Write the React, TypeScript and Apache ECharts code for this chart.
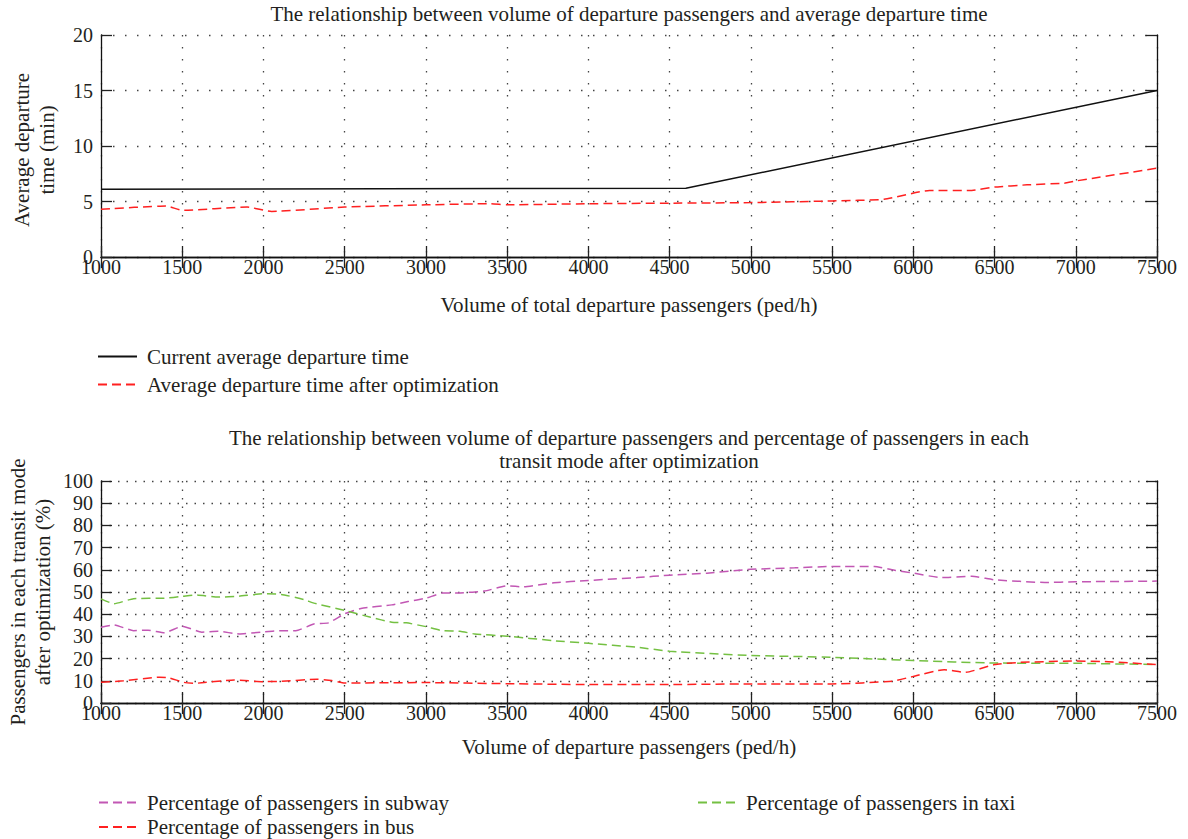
import React, { useEffect, useRef } from "react";
import * as echarts from "echarts";

// ---------- DATA ----------
const xRange = [1000, 7500];
const currentX = [1000, 4600, 7500];
const currentY = [6.1, 6.2, 15.0];

const optX = [1000, 1400, 1500, 1900, 2050, 2500, 3000, 3400, 3500, 4000, 4500, 5000, 5500, 5820, 6100, 6360, 6500, 6700, 6930, 7000, 7500];
const optY = [4.3, 4.6, 4.2, 4.5, 4.1, 4.5, 4.7, 4.8, 4.7, 4.8, 4.85, 4.9, 5.05, 5.2, 6.0, 6.0, 6.3, 6.5, 6.65, 6.85, 8.0];

const subwayX = [1000, 1080, 1200, 1290, 1390, 1500, 1620, 1720, 1850, 2000, 2110, 2200, 2310, 2400, 2500, 2600, 2790, 2890, 3000, 3100, 3210, 3360, 3500, 3600, 3780, 4000, 4300, 4500, 4730, 5000, 5270, 5500, 5760, 5890, 6000, 6170, 6360, 6500, 6810, 7000, 7500];
const subwayY = [34.1, 35.2, 32.6, 32.8, 31.6, 34.6, 31.9, 32.3, 31.1, 32.0, 32.6, 32.6, 35.6, 36.1, 40.2, 42.6, 44.2, 45.7, 47.2, 49.5, 49.6, 50.4, 52.8, 52.3, 54.1, 55.2, 56.5, 57.6, 58.5, 60.2, 60.9, 61.5, 61.5, 59.7, 58.5, 56.5, 57.1, 55.5, 54.3, 54.6, 54.9];

const taxiX = [1000, 1080, 1200, 1390, 1500, 1580, 1720, 1850, 2000, 2110, 2250, 2310, 2500, 2660, 2790, 2880, 3000, 3100, 3210, 3300, 3500, 3780, 4000, 4300, 4500, 5000, 5500, 6000, 6500, 7000, 7500];
const taxiY = [46.9, 44.7, 47.0, 47.2, 48.0, 48.7, 47.7, 48.1, 49.2, 48.9, 46.6, 45.0, 41.7, 38.6, 36.4, 36.1, 34.4, 32.6, 32.3, 31.1, 30.1, 28.1, 26.9, 25.1, 23.3, 21.4, 20.6, 19.1, 18.0, 17.9, 17.3];

const busX = [1000, 1140, 1360, 1420, 1510, 1580, 1820, 2000, 2110, 2330, 2420, 2500, 3000, 3500, 4000, 4500, 5000, 5500, 5870, 6000, 6190, 6320, 6500, 6660, 7000, 7200, 7500];
const busY = [9.3, 10.0, 11.6, 11.3, 9.3, 8.9, 10.4, 9.6, 9.8, 10.7, 10.1, 9.0, 9.2, 8.7, 8.3, 8.3, 8.6, 8.6, 9.8, 12.0, 15.0, 13.8, 17.3, 18.3, 18.9, 18.6, 17.3];

const seriesNames = {
  current: "Current average departure time",
  opt: "Average departure time after optimization",
  subway: "Percentage of passengers in subway",
  taxi: "Percentage of passengers in taxi",
  bus: "Percentage of passengers in bus",
};

const texts = {
  title1: "The relationship between volume of departure passengers and average departure time",
  title2: "The relationship between volume of departure passengers and percentage of passengers in each\ntransit mode after optimization",
  yName1: "Average departure\ntime (min)",
  yName2: "Passengers in each transit mode\nafter optimization (%)",
  xName1: "Volume of total departure passengers (ped/h)",
  xName2: "Volume of departure passengers (ped/h)",
};

const zip = (xs: number[], ys: number[]) => xs.map((x, i) => [x, ys[i]]);

const FONT = "'Liberation Serif', 'Times New Roman', serif";
const TXT = "#231f20";

function App() {
  const ref = useRef<HTMLDivElement>(null);
  useEffect(() => {
    if (!ref.current) return;
    const chart = echarts.init(ref.current, undefined, { renderer: "svg" });

    const axisLine = { show: true, lineStyle: { color: "#111", width: 1.3 } };
    const tick = { show: true, inside: true, length: 11, lineStyle: { color: "#222", width: 1.3 } };
    const plain = (v: number) => String(v);
    const mkX = (grid: number, dash: number[]) => [
      {
        type: "value", gridIndex: grid, min: xRange[0], max: xRange[1], interval: 500,
        axisLine, axisTick: tick,
        axisLabel: { fontFamily: FONT, fontSize: 20, color: TXT, margin: 3, lineHeight: 14, formatter: plain },
        splitLine: { show: true, lineStyle: { color: "#444", width: 1.3, type: dash } },
      },
      {
        type: "value", gridIndex: grid, position: "top", min: xRange[0], max: xRange[1], interval: 500,
        axisLine, axisTick: tick, axisLabel: { show: false }, splitLine: { show: false },
      },
    ];
    const mkY = (grid: number, max: number, interval: number, dash: number[]) => [
      {
        type: "value", gridIndex: grid, min: 0, max, interval,
        axisLine, axisTick: tick,
        axisLabel: { fontFamily: FONT, fontSize: 20, color: TXT, margin: 8, lineHeight: 14, formatter: plain },
        splitLine: { show: true, lineStyle: { color: "#444", width: 1.3, type: dash } },
      },
      {
        type: "value", gridIndex: grid, position: "right", min: 0, max, interval,
        axisLine, axisTick: tick, axisLabel: { show: false }, splitLine: { show: false },
      },
    ];

    const lineSeries = (name: string, data: number[][], color: string, dashed: boolean, xi: number, yi: number) => ({
      type: "line", name, data, xAxisIndex: xi, yAxisIndex: yi,
      symbol: "none", showSymbol: false, smooth: dashed ? 0.15 : false,
      lineStyle: { color, width: 1.5, type: dashed ? [9, 5] : "solid" },
      itemStyle: { color },
      z: 5,
    });

    const legendText = { fontFamily: FONT, fontSize: 21, color: TXT, lineHeight: 20, padding: [0, 0, 0, 5] };

    chart.setOption({
      animation: false,
      backgroundColor: "#ffffff",
      grid: [
        { left: 101, right: 31, top: 35, height: 222 },
        { left: 101, right: 31, top: 481, height: 222 },
      ],
      xAxis: [...mkX(0, [1.5, 10.5]), ...mkX(1, [1.5, 7])],
      yAxis: [...mkY(0, 20, 5, [1.5, 10.5]), ...mkY(1, 100, 10, [1.5, 7])],
      legend: [
        {
          orient: "vertical", left: 97, top: 346, padding: 0, height: 80, itemWidth: 39, itemHeight: 12, itemGap: 7,
          data: [seriesNames.current, seriesNames.opt], textStyle: legendText,
          itemStyle: { opacity: 0 },
        },
        {
          orient: "vertical", left: 98, top: 792, padding: 0, height: 80, itemWidth: 38, itemHeight: 12, itemGap: 3.5,
          data: [seriesNames.subway, seriesNames.bus], textStyle: legendText,
          itemStyle: { opacity: 0 },
        },
        {
          orient: "vertical", left: 697, top: 792, padding: 0, height: 80, itemWidth: 38, itemHeight: 12, itemGap: 3.5,
          data: [seriesNames.taxi], textStyle: legendText,
          itemStyle: { opacity: 0 },
        },
      ],
      graphic: [
        { type: "text", x: 629, y: 14, style: { text: texts.title1, font: `21px ${FONT}`, fill: TXT, align: "center", verticalAlign: "middle" } },
        { type: "text", x: 629, y: 449, style: { text: texts.title2, font: `21px ${FONT}`, fill: TXT, align: "center", verticalAlign: "middle", lineHeight: 23 } },
        { type: "text", x: 34, y: 150, rotation: Math.PI / 2, style: { text: texts.yName1, font: `21px ${FONT}`, fill: TXT, align: "center", verticalAlign: "middle", lineHeight: 25 } },
        { type: "text", x: 30, y: 592, rotation: Math.PI / 2, style: { text: texts.yName2, font: `21px ${FONT}`, fill: TXT, align: "center", verticalAlign: "middle", lineHeight: 25 } },
        { type: "text", x: 629, y: 305, style: { text: texts.xName1, font: `21px ${FONT}`, fill: TXT, align: "center", verticalAlign: "middle" } },
        { type: "text", x: 629, y: 747, style: { text: texts.xName2, font: `21px ${FONT}`, fill: TXT, align: "center", verticalAlign: "middle" } },
      ],
      series: [
        lineSeries(seriesNames.current, zip(currentX, currentY), "#111111", false, 0, 0),
        lineSeries(seriesNames.opt, zip(optX, optY), "#ff2020", true, 0, 0),
        lineSeries(seriesNames.subway, zip(subwayX, subwayY), "#c257b4", true, 2, 2),
        lineSeries(seriesNames.taxi, zip(taxiX, taxiY), "#74c042", true, 2, 2),
        lineSeries(seriesNames.bus, zip(busX, busY), "#ff2020", true, 2, 2),
      ],
    });
    return () => chart.dispose();
  }, []);
  return (
    <div
      ref={ref}
      style={{ position: "fixed", left: 0, top: 0, width: 1188, height: 839, background: "#fff" }}
    />
  );
}

export default App;
